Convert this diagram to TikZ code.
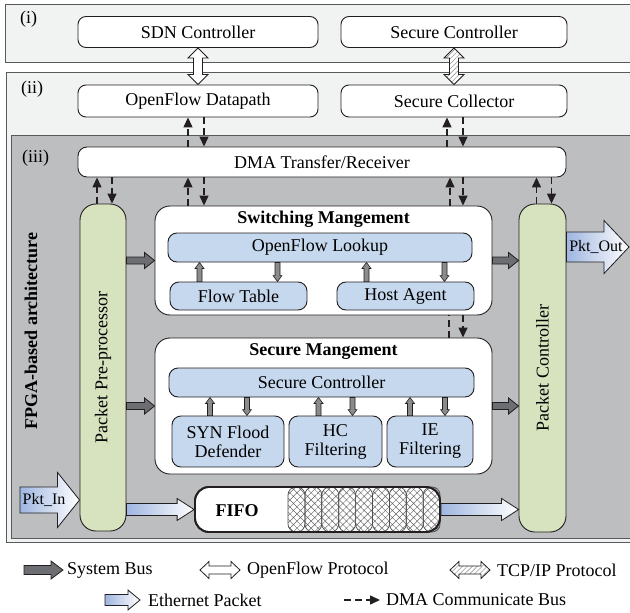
\documentclass[tikz,border=0pt]{standalone}
\usepackage{fontspec}
\setmainfont{Liberation Serif}
\usetikzlibrary{calc,arrows.meta,patterns.meta}

\definecolor{panelbg}{HTML}{F1F2F2}
\definecolor{fpgabg}{HTML}{BCBEC0}
\definecolor{procgreen}{HTML}{D7E3BF}
\definecolor{unitblue}{HTML}{C6D8EE}
\definecolor{busgray}{HTML}{6D6E71}
\definecolor{linkgray}{HTML}{8A8B8D}
\definecolor{ethblue}{HTML}{9FB6E0}
\definecolor{inkline}{HTML}{231F20}
\definecolor{paneline}{HTML}{58595B}

\tikzset{
  blockarrow/.style n args={3}{to path={
    let \p1=(\tikztostart), \p2=(\tikztotarget),
        \n1={atan2(\y2-\y1,\x2-\x1)}, \n2={veclen(\x2-\x1,\y2-\y1)} in
    ([shift={(\p1)},rotate=\n1]0pt,#1)
    -- ([shift={(\p1)},rotate=\n1]\n2-#3,#1)
    -- ([shift={(\p1)},rotate=\n1]\n2-#3,#2)
    -- (\p2)
    -- ([shift={(\p1)},rotate=\n1]\n2-#3,-#2)
    -- ([shift={(\p1)},rotate=\n1]\n2-#3,-#1)
    -- ([shift={(\p1)},rotate=\n1]0pt,-#1) -- cycle}},
  dblockarrow/.style n args={3}{to path={
    let \p1=(\tikztostart), \p2=(\tikztotarget),
        \n1={atan2(\y2-\y1,\x2-\x1)}, \n2={veclen(\x2-\x1,\y2-\y1)} in
    (\p1)
    -- ([shift={(\p1)},rotate=\n1]#3,#2)
    -- ([shift={(\p1)},rotate=\n1]#3,#1)
    -- ([shift={(\p1)},rotate=\n1]\n2-#3,#1)
    -- ([shift={(\p1)},rotate=\n1]\n2-#3,#2)
    -- (\p2)
    -- ([shift={(\p1)},rotate=\n1]\n2-#3,-#2)
    -- ([shift={(\p1)},rotate=\n1]\n2-#3,-#1)
    -- ([shift={(\p1)},rotate=\n1]#3,-#1)
    -- ([shift={(\p1)},rotate=\n1]#3,-#2) -- cycle}},
  lbl/.style={inner sep=0pt, font=\fontsize{18}{19}\selectfont},
  box/.style={lbl, draw=inkline, line width=.9pt, fill=white, rounded corners=8pt, align=center},
  unit/.style={box, fill=unitblue, rounded corners=9pt},
  mgmt/.style={box, rounded corners=15pt, minimum width=337pt},
  column/.style={box, fill=procgreen, rounded corners=16pt},
  fifobox/.style={draw=inkline, line width=1.8pt, fill=white, rounded corners=14pt, inner sep=0pt},
  fifocell/.style={draw=inkline!80, line width=.7pt, rounded corners=8pt, inner sep=0pt,
    minimum width=16.9pt, minimum height=45pt,
    pattern={Hatch[angle=45,distance=5pt,line width=.45pt]}, pattern color=black!60},
  panel/.style={draw=paneline, line width=.9pt},
  sysbus/.style={draw=inkline, line width=.8pt, fill=busgray, blockarrow={3.5pt}{8pt}{10pt}},
  link/.style={draw=inkline, line width=.6pt, fill=linkgray, blockarrow={2.5pt}{4.5pt}{6pt}},
  eth/.style={draw=inkline, line width=.8pt, left color=ethblue, right color=white},
  ofproto/.style={draw=inkline, line width=.8pt, fill=white, dblockarrow={4.5pt}{10pt}{10pt}},
  tcpproto/.style={draw=inkline, line width=.8pt, preaction={fill=white},
    pattern={Lines[angle=45,distance=3.5pt,line width=.6pt]}, pattern color=black!40,
    dblockarrow={4.5pt}{10pt}{10pt}},
  dmabus/.style={inkline, line width=1.4pt, dash pattern=on 7pt off 4pt, -{Triangle[length=10pt,width=9pt]}},
  dmaline/.style={inkline, line width=1.4pt, dash pattern=on 7pt off 4pt},
}

\begin{document}
\begin{tikzpicture}[x=1pt, y=-1pt]
  \useasboundingbox[fill=white] (0,0) rectangle (630,613);
  \draw[panel, fill=panelbg] (5,4) rectangle (636,62);
  \draw[panel, fill=panelbg] (6,72) rectangle (636,542);
  \draw[panel, fill=fpgabg] (11,135) rectangle (636,538);
  \node[lbl, anchor=west] (tag1) at (20,19) {(i)};
  \node[lbl, anchor=west] (tag2) at (21,89) {(ii)};
  \node[lbl, anchor=west] (tag3) at (22,158) {(iii)};

  \node[box, minimum width=240pt, minimum height=31pt] (sdn) at (198,32) {SDN Controller};
  \node[box, minimum width=226pt, minimum height=31pt] (secc) at (454,32) {Secure Controller};
  \node[box, minimum width=240pt, minimum height=32pt] (ofd) at (198,101) {OpenFlow Datapath};
  \node[box, minimum width=226pt, minimum height=32pt] (scol) at (454,101) {Secure Collector};
  \node[box, rounded corners=9pt, minimum width=488pt, minimum height=30pt] (dma) at (322,162) {DMA Transfer/Receiver};
  \draw[ofproto] (sdn.south) to (ofd.north);
  \draw[tcpproto] (secc.south) to (scol.north);

  \node[lbl, rotate=90] (fpga) at (31,331) {\textbf{FPGA-based architecture}};
  \node[column, minimum width=46pt, minimum height=327pt] (pre) at (103,367.5) {};
  \node[lbl, rotate=90] (prelbl) at (pre) {Packet Pre-processor};
  \node[column, minimum width=47pt, minimum height=328pt] (pc) at (542.5,368) {};
  \node[lbl, rotate=90] (pclbl) at (pc) {Packet Controller};

  \node[mgmt, minimum height=109pt] (sw) at (323.5,260.5) {};
  \node[lbl] (swtitle) at (323.5,219) {\textbf{Switching Mangement}};
  \node[unit, minimum width=304pt, minimum height=29pt] (ol) at (320,247.5) {OpenFlow Lookup};
  \node[unit, minimum width=137pt, minimum height=28pt] (ft) at (238.5,296) {Flow Table};
  \node[unit, minimum width=137pt, minimum height=28pt] (ha) at (405.5,296) {Host Agent};

  \node[mgmt, minimum height=136pt] (sm) at (323.5,406) {};
  \node[lbl] (smtitle) at (323.5,352) {\textbf{Secure Mangement}};
  \node[unit, minimum width=305pt, minimum height=29pt] (sc) at (321.5,382.5) {Secure Controller};
  \node[unit, minimum width=112pt, minimum height=51pt] (syn) at (228,441.5) {SYN Flood\\Defender};
  \node[unit, minimum width=93pt, minimum height=51pt] (hc) at (335.5,441.5) {HC\\Filtering};
  \node[unit, minimum width=86pt, minimum height=51pt] (ie) at (430,441.5) {IE\\Filtering};

  \node[fifobox, minimum width=245pt, minimum height=45pt] (fifo) at (317.5,509.5) {};
  \foreach \i in {0,...,8}
    \node[fifocell] (cell\i) at ({296.45+16.9*\i},509.5) {};
  \node[fifobox, fill=none, minimum width=245pt, minimum height=45pt] (fifoedge) at (fifo) {};
  \node[lbl] (fifolbl) at (237,511) {\textbf{FIFO}};

  \draw[sysbus] (pre.east |- sw.west) to (sw.west);
  \draw[sysbus] (pre.east |- sm.west) to (sm.west);
  \draw[sysbus] (sw.east) to (pc.west |- sw.east);
  \draw[sysbus] (sm.east) to (pc.west |- sm.east);

  \foreach \a/\b/\s in {ft/ol/-39pt, ha/ol/-39pt, syn/sc/-18pt, hc/sc/-17pt, ie/sc/-20pt}
    \draw[link] ([xshift=\s]\a.north) to ([xshift=\s]\a.north |- \b.south);
  \foreach \a/\b/\s in {ft/ol/39pt, ha/ol/39pt, syn/sc/19pt, hc/sc/17pt, ie/sc/15pt}
    \draw[link] ([xshift=\s]\a.north |- \b.south) to ([xshift=\s]\a.north);

  \draw[dmabus] ([xshift=-10pt]ofd.south |- dma.north) -- ([xshift=-10pt]ofd.south);
  \draw[dmabus] ([xshift=6pt]ofd.south) -- ([xshift=6pt]ofd.south |- dma.north);
  \draw[dmabus] ([xshift=-7pt]scol.south |- dma.north) -- ([xshift=-7pt]scol.south);
  \draw[dmabus] ([xshift=9pt]scol.south) -- ([xshift=9pt]scol.south |- dma.north);
  \draw[dmabus] ([xshift=-6pt]pre.north) -- ([xshift=-6pt]pre.north |- dma.south);
  \draw[dmabus] ([xshift=9pt]pre.north |- dma.south) -- ([xshift=9pt]pre.north);
  \draw[dmabus] ([xshift=-6pt]pc.north) -- ([xshift=-6pt]pc.north |- dma.south);
  \draw[dmabus] ([xshift=9pt]pc.north |- dma.south) -- ([xshift=9pt]pc.north);
  \draw[dmabus] ([xshift=-10pt]ofd.south |- sw.north) -- ([xshift=-10pt]ofd.south |- dma.south);
  \draw[dmabus] ([xshift=6pt]ofd.south |- dma.south) -- ([xshift=6pt]ofd.south |- sw.north);
  \draw[dmabus] ([xshift=-4pt]scol.south |- sw.north) -- ([xshift=-4pt]scol.south |- dma.south);
  \draw[dmabus] ([xshift=9pt]scol.south |- dma.south) -- ([xshift=9pt]scol.south |- sw.north);
  \draw[dmaline] ([xshift=-5pt]scol.south |- sm.north) -- ([xshift=-5pt]scol.south |- sw.south);
  \draw[dmabus] ([xshift=9pt]scol.south |- sw.south) -- ([xshift=9pt]scol.south |- sm.north);

  \coordinate (pktin) at (20,500);
  \draw[eth, blockarrow={13pt}{27.5pt}{22pt}] (pktin) to (pre.west |- pktin);
  \node[lbl, font=\fontsize{16}{16}\selectfont] (pktinlbl) at (44,500) {Pkt\_In};
  \draw[eth, blockarrow={6pt}{11pt}{17pt}] (pre.east |- fifo.west) to (fifo.west);
  \draw[eth, blockarrow={6pt}{11pt}{17pt}] (fifo.east) to (pc.west |- fifo.east);
  \coordinate (pktout) at (629,247);
  \draw[eth, blockarrow={15pt}{26.5pt}{25pt}] (pc.east |- pktout) to (pktout);
  \node[lbl, font=\fontsize{16}{16}\selectfont] (pktoutlbl) at (596,247) {Pkt\_Out};

  \node[lbl, anchor=west] (lgsys) at (67,570) {System Bus};
  \draw[sysbus, blockarrow={4.5pt}{9pt}{12pt}] ([xshift=-43pt]lgsys.west) to ([xshift=-4pt]lgsys.west);
  \node[lbl, anchor=west] (lgof) at (247,570) {OpenFlow Protocol};
  \draw[ofproto, dblockarrow={4pt}{8.5pt}{9pt}] ([xshift=-47pt]lgof.west) to ([xshift=-7pt]lgof.west);
  \node[lbl, anchor=west] (lgtcp) at (497,570) {TCP/IP Protocol};
  \draw[tcpproto, dblockarrow={4pt}{8.5pt}{9pt}] ([xshift=-47pt]lgtcp.west) to ([xshift=-7pt]lgtcp.west);
  \node[lbl, anchor=west] (lgeth) at (148,600) {Ethernet Packet};
  \draw[eth, blockarrow={5.5pt}{10pt}{12pt}] ([xshift=-43pt]lgeth.west) to ([xshift=-8pt]lgeth.west);
  \node[lbl, anchor=west] (lgdma) at (386,600) {DMA Communicate Bus};
  \draw[dmabus] ([xshift=-42pt]lgdma.west) to ([xshift=-6pt]lgdma.west);
\end{tikzpicture}
\end{document}
